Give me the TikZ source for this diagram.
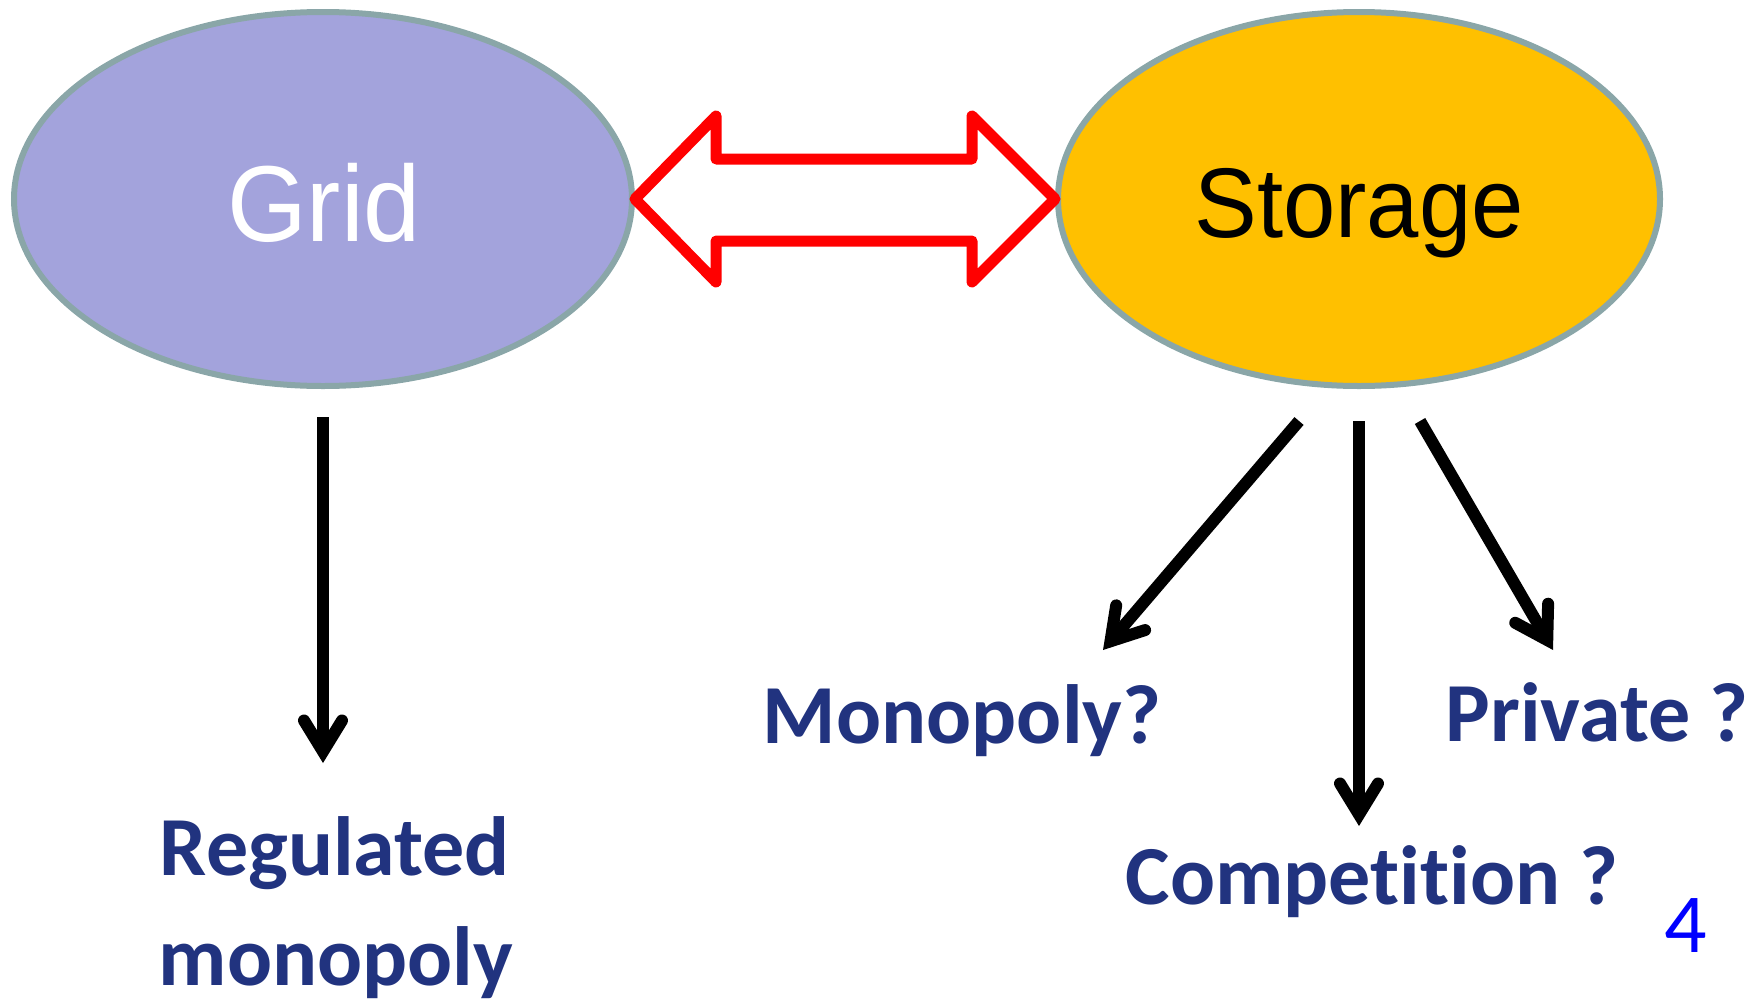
\documentclass[tikz,border=0pt]{standalone}
\usepackage{fontspec}
\usetikzlibrary{shapes.geometric,arrows.meta,calc}
\newfontfamily\calibfont[Ligatures=NoCommon]{Carlito}
\newfontfamily\arialfont{Liberation Sans}
\definecolor{gridfill}{RGB}{163,163,220}
\definecolor{storfill}{RGB}{255,192,0}
\definecolor{ellborder}{RGB}{138,166,168}
\definecolor{labblue}{RGB}{33,51,127}
\definecolor{pageblue}{RGB}{0,0,255}
\tikzset{
  blob/.style={ellipse, draw=ellborder, line width=6pt, inner sep=0pt},
  bigarrow/.style={draw=red, line width=11pt, line join=round, fill=white},
  downarrow/.style={draw=black, line width=12pt, -{Straight Barb[length=31pt,width=38pt,line cap=round,line join=miter]}},
  lab/.style={text=labblue, font=\calibfont\bfseries\fontsize{84}{110}\selectfont, inner sep=0pt, anchor=base, align=center}
}
\begin{document}
\begin{tikzpicture}[x=1pt,y=-1pt]
\useasboundingbox (0,0) rectangle (1760,1004);
\node[blob, fill=gridfill, minimum width=618pt, minimum height=374pt] (grid) at (323,199) {};
\node[blob, fill=storfill, minimum width=602pt, minimum height=374pt] (storage) at (1359,199) {};
\node[text=white, font=\arialfont\fontsize{108}{120}\selectfont, xscale=0.95, anchor=base, inner sep=0pt] (gridtxt) at (324,241) {Grid};
\node[text=black, font=\arialfont\fontsize{99}{110}\selectfont, xscale=0.95, anchor=base, inner sep=0pt] (stortxt) at (1359,237) {Storage};
% double block arrow
\draw[bigarrow] (grid.east) -- (716,116) -- (716,159) -- (972,159) -- (972,116) -- (storage.west)
  -- (972,282) -- (972,241) -- (716,241) -- (716,282) -- cycle;
% labels
\node[lab] (reg) at (335,875) {Regulated};
\node[lab] (regb) at (336,985) {monopoly};
\node[lab] (mono) at (962,743) {Monopoly?};
\node[lab] (priv) at (1597,741) {Private ?};
\node[lab] (comp) at (1372,904) {Competition ?};
\node[text=pageblue, font=\calibfont\fontsize{84}{100}\selectfont, anchor=base, inner sep=0pt] (pg) at (1686,952) {4};
% arrows
\coordinate (gs) at ($(grid.south)+(0,28)$);
\coordinate (t1) at (323,763);
\draw[downarrow] (gs) -- (t1);
\coordinate (s1) at ($(storage.south)+(-60,32)$);
\coordinate (s2) at ($(storage.south)+(0,32)$);
\coordinate (s3) at ($(storage.south)+(61,32)$);
\coordinate (t2) at (1103,650);
\coordinate (t3) at (1359,826);
\coordinate (t4) at (1553,650);
\draw[downarrow] (s1) -- (t2);
\draw[downarrow] (s2) -- (t3);
\draw[downarrow] (s3) -- (t4);
\end{tikzpicture}
\end{document}
